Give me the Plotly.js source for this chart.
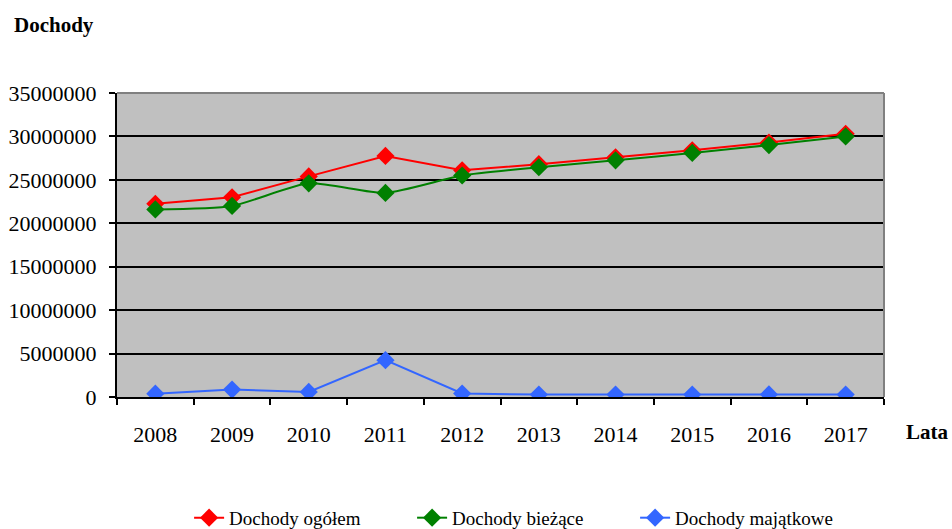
<!DOCTYPE html>
<html>
<head>
<meta charset="utf-8">
<script src="https://cdn.plot.ly/plotly-3.0.1.min.js"></script>
<style>html,body{margin:0;padding:0;background:#fff;}#chart{width:952px;height:529px;}</style>
</head>
<body>
<div id="chart"></div>
<script>
const years = ['2008','2009','2010','2011','2012','2013','2014','2015','2016','2017'];
const dochodyOgolem = [22250000, 23000000, 25400000, 27750000, 26100000, 26800000, 27600000, 28400000, 29300000, 30300000];
const dochodyBiezace = [21600000, 22000000, 24600000, 23500000, 25500000, 26450000, 27250000, 28100000, 29000000, 30000000];
const dochodyMajatkowe = [380000, 850000, 580000, 4240000, 400000, 280000, 280000, 280000, 300000, 280000];
const yTicks = [0, 5000000, 10000000, 15000000, 20000000, 25000000, 30000000, 35000000];

const serif = '"Liberation Serif", "Times New Roman", Times, serif';
function trace(name, y, color, shape) {
  return {
    type: 'scatter', mode: 'lines+markers', name: name, x: years, y: y,
    line: {color: color, width: 2, shape: shape || 'linear', smoothing: 0.6},
    marker: {symbol: 'diamond', size: 14, color: color}
  };
}
const data = [
  trace('Dochody ogółem', dochodyOgolem, '#FF0000'),
  trace('Dochody bieżące', dochodyBiezace, '#008000', 'spline'),
  trace('Dochody majątkowe', dochodyMajatkowe, '#3366FF')
];
const layout = {
  width: 952, height: 529,
  margin: {l: 117, r: 68, t: 93, b: 132, autoexpand: false},
  paper_bgcolor: '#FFFFFF', plot_bgcolor: '#C0C0C0',
  font: {family: serif, color: '#000', size: 22},
  showlegend: true,
  legend: {orientation: 'h', x: 0.094, xanchor: 'left', y: -0.335, yanchor: 'top',
    font: {family: serif, size: 19, color: '#000'}, entrywidth: 178, entrywidthmode: 'pixels',
    traceorder: 'normal', bgcolor: 'rgba(0,0,0,0)'},
  xaxis: {
    type: 'category', categoryorder: 'array', categoryarray: years, range: [-0.5, 9.5],
    showgrid: false, zeroline: false, showline: true, linecolor: '#000', linewidth: 2,
    ticks: 'outside', ticklen: 6, tickwidth: 2, tickcolor: '#000', tickson: 'boundaries',
    ticklabelstandoff: 17, tickfont: {family: serif, size: 22}
  },
  yaxis: {
    range: [0, 35000000], tickvals: yTicks, ticktext: yTicks.map(String),
    showgrid: true, gridcolor: '#000', gridwidth: 2, zeroline: false,
    showline: true, linecolor: '#000', linewidth: 2,
    ticks: 'outside', ticklen: 6, tickwidth: 2, tickcolor: '#000',
    ticklabelstandoff: 8, tickfont: {family: serif, size: 22}
  },
  shapes: [
    {type: 'line', xref: 'paper', yref: 'paper', x0: 0, x1: 1, y0: 1, y1: 1, line: {color: '#808080', width: 2}},
    {type: 'line', xref: 'paper', yref: 'paper', x0: 1, x1: 1, y0: 0, y1: 1, line: {color: '#808080', width: 2}}
  ],
  annotations: [
    {text: '<b>Dochody</b>', xref: 'paper', yref: 'paper', x: -0.137, y: 1.225, xanchor: 'left', yanchor: 'middle',
      showarrow: false, font: {family: serif, size: 21, color: '#000'}},
    {text: '<b>Lata</b>', xref: 'paper', yref: 'paper', x: 1.026, y: -0.115, xanchor: 'left', yanchor: 'middle',
      showarrow: false, font: {family: serif, size: 21, color: '#000'}}
  ]
};
Plotly.newPlot('chart', data, layout, {displayModeBar: false, staticPlot: true});
</script>
</body>
</html>
